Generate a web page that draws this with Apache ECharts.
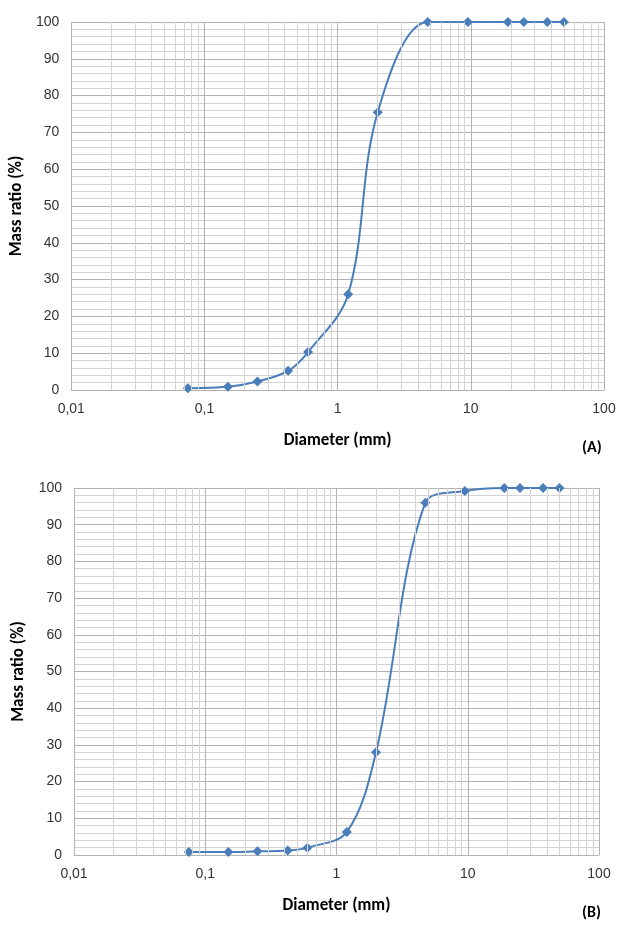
<!DOCTYPE html>
<html>
<head>
<meta charset="utf-8">
<script src="https://cdn.jsdelivr.net/npm/echarts@6/dist/echarts.min.js"></script>
<style>
  html, body { margin: 0; padding: 0; background: #fff; }
  #chart { width: 622px; height: 925px; }
</style>
</head>
<body>
<div id="chart"></div>
<script>
// sieve sizes (mm)
const diameters = [0.075, 0.15, 0.25, 0.425, 0.6, 1.2, 2, 4.75, 9.5, 19, 25, 37.5, 50];
// mass ratio passing (%)
const massA = [0.5, 0.9, 2.3, 5.2, 10.3, 26, 75.5, 100, 100, 100, 100, 100, 100];
const massB = [0.8, 0.8, 1.0, 1.2, 2.0, 6.3, 28, 96, 99.2, 100, 100, 100, 100];
const decades = [0.01, 0.1, 1, 10];
const yTicks = [0, 10, 20, 30, 40, 50, 60, 70, 80, 90, 100];

const labelFont = 'Liberation Sans, Arial, sans-serif';
const titleFont = 'Carlito, "Liberation Sans Narrow", Lato, "Open Sans", sans-serif';
const lineBlue = '#4a7ebb';
const majorGrid = '#b3b3b3';
const minorGrid = '#d3d3d3';

// minor vertical gridlines at 2..9 of each decade
const minorX = [];
decades.forEach(d => {
  for (let k = 2; k <= 9; k++) minorX.push(+(d * k).toPrecision(3));
});

const chart = echarts.init(document.getElementById('chart'));

const makeX = (gridIndex) => ({
  type: 'log',
  gridIndex,
  logBase: 10,
  min: 0.01,
  max: 100,
  name: 'Diameter (mm)',
  nameLocation: 'middle',
  nameGap: 42,
  nameTextStyle: { fontFamily: titleFont, fontSize: 17, fontWeight: 'bold', color: '#000' },
  axisLine: { show: true, lineStyle: { color: majorGrid } },
  axisTick: { show: false },
  axisLabel: {
    fontFamily: labelFont,
    fontSize: 14,
    color: '#333',
    margin: 12,
    formatter: v => String(+v.toPrecision(3)).replace('.', ',')
  },
  splitLine: { show: true, lineStyle: { color: majorGrid, width: 1 } }
});

const makeY = (gridIndex, gap) => ({
  type: 'value',
  gridIndex,
  min: yTicks[0],
  max: yTicks[yTicks.length - 1],
  interval: 10,
  name: 'Mass ratio (%)',
  nameLocation: 'middle',
  nameGap: gap,
  nameTextStyle: { fontFamily: titleFont, fontSize: 17, fontWeight: 'bold', color: '#000' },
  axisLine: { show: false },
  axisTick: { show: false },
  minorTick: { show: false, splitNumber: 5 },
  minorSplitLine: { show: true, lineStyle: { color: minorGrid, width: 1 } },
  axisLabel: { fontFamily: labelFont, fontSize: 14, color: '#333', margin: 12 },
  splitLine: { show: true, lineStyle: { color: majorGrid, width: 1 } }
});

const gridSeries = (idx) => ({
  type: 'line',
  xAxisIndex: idx,
  yAxisIndex: idx,
  data: [],
  z: 1,
  silent: true,
  markLine: {
    silent: true,
    animation: false,
    symbol: ['none', 'none'],
    label: { show: false },
    lineStyle: { type: 'solid', color: minorGrid, width: 1 },
    data: minorX.map(v => ({ xAxis: v }))
  }
});

const curve = (idx, values) => ({
  type: 'line',
  xAxisIndex: idx,
  yAxisIndex: idx,
  data: diameters.map((d, i) => [d, values[i]]),
  smooth: 0.35,
  smoothConstraint: false,
  clip: true,
  symbol: 'diamond',
  symbolSize: 10,
  z: 3,
  itemStyle: { color: lineBlue },
  lineStyle: { color: lineBlue, width: 2 }
});

chart.setOption({
  animation: false,
  backgroundColor: '#fff',
  grid: [
    { left: 67, right: 18, top: 22, height: 368 },
    { left: 74, right: 23, top: 488, height: 367 }
  ],
  xAxis: [makeX(0), makeX(1)],
  yAxis: [makeY(0, 40), makeY(1, 46)],
  graphic: [
    { type: 'text', left: 582, top: 440, style: { text: '(A)', font: 'bold 16px ' + titleFont, fill: '#000' } },
    { type: 'text', left: 582, top: 905, style: { text: '(B)', font: 'bold 16px ' + titleFont, fill: '#000' } }
  ],
  series: [gridSeries(0), gridSeries(1), curve(0, massA), curve(1, massB)]
});
</script>
</body>
</html>
